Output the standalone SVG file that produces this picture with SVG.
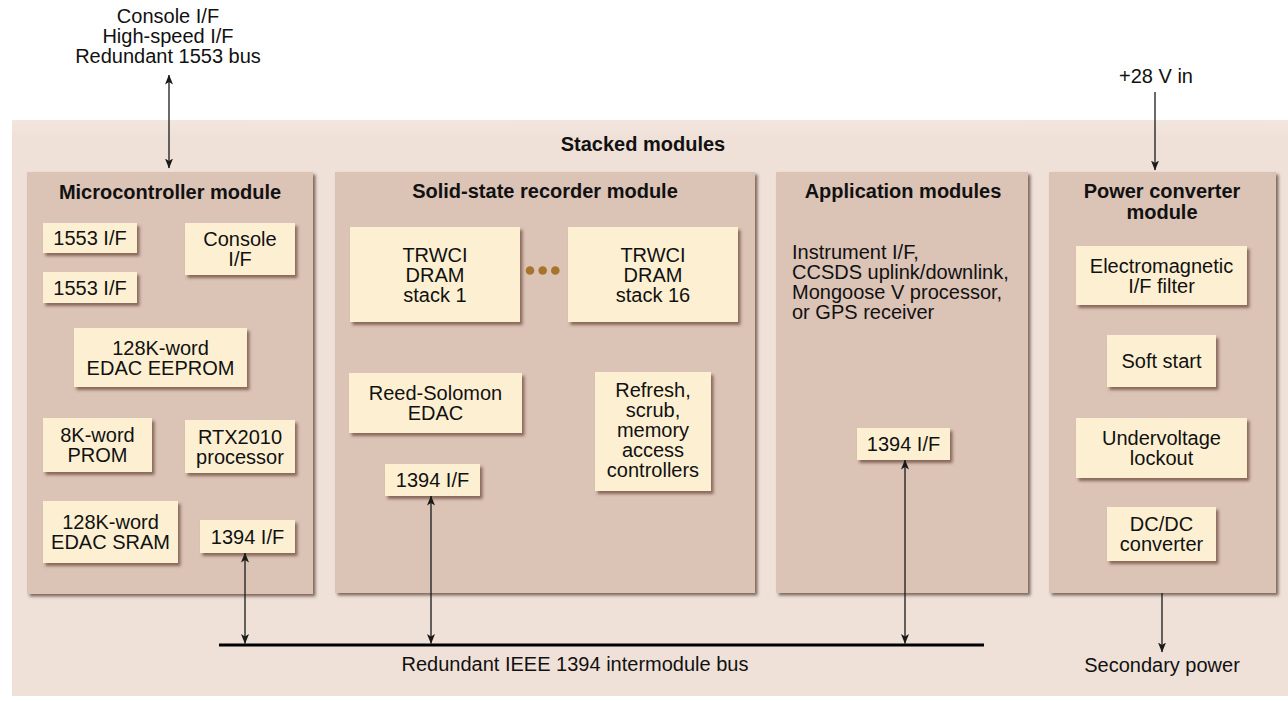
<svg xmlns="http://www.w3.org/2000/svg" width="1288" height="702" viewBox="0 0 1288 702">
<defs>
<filter id="msh" x="-5%" y="-5%" width="112%" height="112%">
<feDropShadow dx="2.5" dy="2.5" stdDeviation="1.6" flood-color="#5a4038" flood-opacity="0.75"/>
</filter>
<filter id="bsh" x="-10%" y="-10%" width="125%" height="130%">
<feDropShadow dx="2.5" dy="3" stdDeviation="1.4" flood-color="#6a4a3a" flood-opacity="0.75"/>
</filter>
<marker id="ah" viewBox="0 0 10 8" refX="9.5" refY="4" markerWidth="10" markerHeight="8" markerUnits="userSpaceOnUse" orient="auto-start-reverse">
<path d="M0,0 L10,4 L0,8 L2.5,4 z" fill="#1a1a1a"/>
</marker>
<linearGradient id="bgfade" x1="0" y1="0" x2="0" y2="1">
<stop offset="0" stop-color="#f2e6df"/>
<stop offset="0.03" stop-color="#efe1d8"/>
<stop offset="1" stop-color="#efe1d8"/>
</linearGradient>
</defs>
<style>
text{font-family:"Liberation Sans",Arial,Helvetica,sans-serif;font-size:20px;fill:#111;}
.t{text-anchor:middle;}
.b{font-weight:bold;text-anchor:middle;}
.mod{fill:#dbc3b6;filter:url(#msh);}
.box{fill:#fdf0d2;filter:url(#bsh);}
.ln{stroke:#1a1a1a;stroke-width:1.3;fill:none;}
.bus{stroke:#000;stroke-width:3;fill:none;}
</style>
<rect width="1288" height="702" fill="#ffffff"/>
<g id="stacked">
<rect x="12" y="120" width="1276" height="576" fill="url(#bgfade)"/>
<text class="b" x="643" y="151">Stacked modules</text>
</g>
<g id="ext-labels">
<text class="t" x="168" y="23">Console I/F</text>
<text class="t" x="168" y="43">High-speed I/F</text>
<text class="t" x="168" y="63">Redundant 1553 bus</text>
<text class="t" x="1156" y="83">+28 V in</text>
<text class="t" x="575" y="671">Redundant IEEE 1394 intermodule bus</text>
<text class="t" x="1162" y="672">Secondary power</text>
</g>
<g id="microcontroller">
<rect class="mod" x="27" y="172" width="286" height="422"/>
<text class="b" x="170" y="199">Microcontroller module</text>
<g id="mc-1553a"><rect class="box" x="43" y="223" width="94" height="30"/><text class="t" x="90" y="245">1553 I/F</text></g>
<g id="mc-1553b"><rect class="box" x="43" y="272" width="94" height="31"/><text class="t" x="90" y="294.5">1553 I/F</text></g>
<g id="mc-console"><rect class="box" x="185" y="223" width="110" height="52"/><text class="t" x="240" y="246">Console</text><text class="t" x="240" y="266">I/F</text></g>
<g id="mc-eeprom"><rect class="box" x="74" y="328" width="173" height="59"/><text class="t" x="160.5" y="354.5">128K-word</text><text class="t" x="160.5" y="374.5">EDAC EEPROM</text></g>
<g id="mc-prom"><rect class="box" x="43" y="418" width="109" height="54"/><text class="t" x="97.5" y="442">8K-word</text><text class="t" x="97.5" y="462">PROM</text></g>
<g id="mc-rtx"><rect class="box" x="185" y="420" width="110" height="53"/><text class="t" x="240" y="443.5">RTX2010</text><text class="t" x="240" y="463.5">processor</text></g>
<g id="mc-sram"><rect class="box" x="43" y="501" width="135" height="62"/><text class="t" x="110.5" y="529">128K-word</text><text class="t" x="110.5" y="549">EDAC SRAM</text></g>
<g id="mc-1394"><rect class="box" x="200" y="520" width="95" height="33"/><text class="t" x="247.5" y="543.5">1394 I/F</text></g>
</g>
<g id="ssr">
<rect class="mod" x="335" y="172" width="420" height="421"/>
<text class="b" x="545" y="198">Solid-state recorder module</text>
<g id="ssr-stack1"><rect class="box" x="350" y="227" width="170" height="95"/><text class="t" x="435" y="261.5">TRWCI</text><text class="t" x="435" y="281.5">DRAM</text><text class="t" x="435" y="301.5">stack 1</text></g>
<g id="ssr-dots"><circle cx="530" cy="270.5" r="4.3" fill="#a8742c"/><circle cx="542.7" cy="270.5" r="4.3" fill="#a8742c"/><circle cx="555.3" cy="270.5" r="4.3" fill="#a8742c"/></g>
<g id="ssr-stack16"><rect class="box" x="568" y="227" width="170" height="95"/><text class="t" x="653" y="261.5">TRWCI</text><text class="t" x="653" y="281.5">DRAM</text><text class="t" x="653" y="301.5">stack 16</text></g>
<g id="ssr-rs"><rect class="box" x="349" y="373" width="173" height="60"/><text class="t" x="435.5" y="400">Reed-Solomon</text><text class="t" x="435.5" y="420">EDAC</text></g>
<g id="ssr-refresh"><rect class="box" x="595" y="372" width="116" height="119"/><text class="t" x="653" y="397">Refresh,</text><text class="t" x="653" y="417">scrub,</text><text class="t" x="653" y="437">memory</text><text class="t" x="653" y="457">access</text><text class="t" x="653" y="477">controllers</text></g>
<g id="ssr-1394"><rect class="box" x="385" y="464" width="95" height="32"/><text class="t" x="432.5" y="487">1394 I/F</text></g>
</g>
<g id="application">
<rect class="mod" x="776" y="172" width="252" height="421"/>
<text class="b" x="903" y="198">Application modules</text>
<text x="792" y="259">Instrument I/F,</text>
<text x="792" y="279">CCSDS uplink/downlink,</text>
<text x="792" y="299">Mongoose V processor,</text>
<text x="792" y="319">or GPS receiver</text>
<g id="app-1394"><rect class="box" x="857" y="428" width="93" height="32"/><text class="t" x="903.5" y="451">1394 I/F</text></g>
</g>
<g id="power">
<rect class="mod" x="1049" y="172" width="227" height="421"/>
<text class="b" x="1162" y="198">Power converter</text>
<text class="b" x="1162" y="219">module</text>
<g id="pw-emi"><rect class="box" x="1076" y="246" width="171" height="59"/><text class="t" x="1161.5" y="272.5">Electromagnetic</text><text class="t" x="1161.5" y="292.5">I/F filter</text></g>
<g id="pw-soft"><rect class="box" x="1107" y="335" width="109" height="52"/><text class="t" x="1161.5" y="368">Soft start</text></g>
<g id="pw-uvlo"><rect class="box" x="1076" y="418" width="171" height="60"/><text class="t" x="1161.5" y="445">Undervoltage</text><text class="t" x="1161.5" y="465">lockout</text></g>
<g id="pw-dcdc"><rect class="box" x="1107" y="507" width="109" height="54"/><text class="t" x="1161.5" y="531">DC/DC</text><text class="t" x="1161.5" y="551">converter</text></g>
</g>
<g id="connectors">
<line class="bus" x1="219" y1="645" x2="984" y2="645"/>
<line class="ln" x1="169" y1="75" x2="169" y2="168" marker-start="url(#ah)" marker-end="url(#ah)"/>
<line class="ln" x1="245" y1="553" x2="245" y2="643.5" marker-start="url(#ah)" marker-end="url(#ah)"/>
<line class="ln" x1="431" y1="496" x2="431" y2="643.5" marker-start="url(#ah)" marker-end="url(#ah)"/>
<line class="ln" x1="905" y1="460" x2="905" y2="643.5" marker-start="url(#ah)" marker-end="url(#ah)"/>
<line class="ln" x1="1155" y1="92" x2="1155" y2="170" marker-end="url(#ah)"/>
<line class="ln" x1="1162" y1="593" x2="1162" y2="652" marker-end="url(#ah)"/>
</g>
</svg>
